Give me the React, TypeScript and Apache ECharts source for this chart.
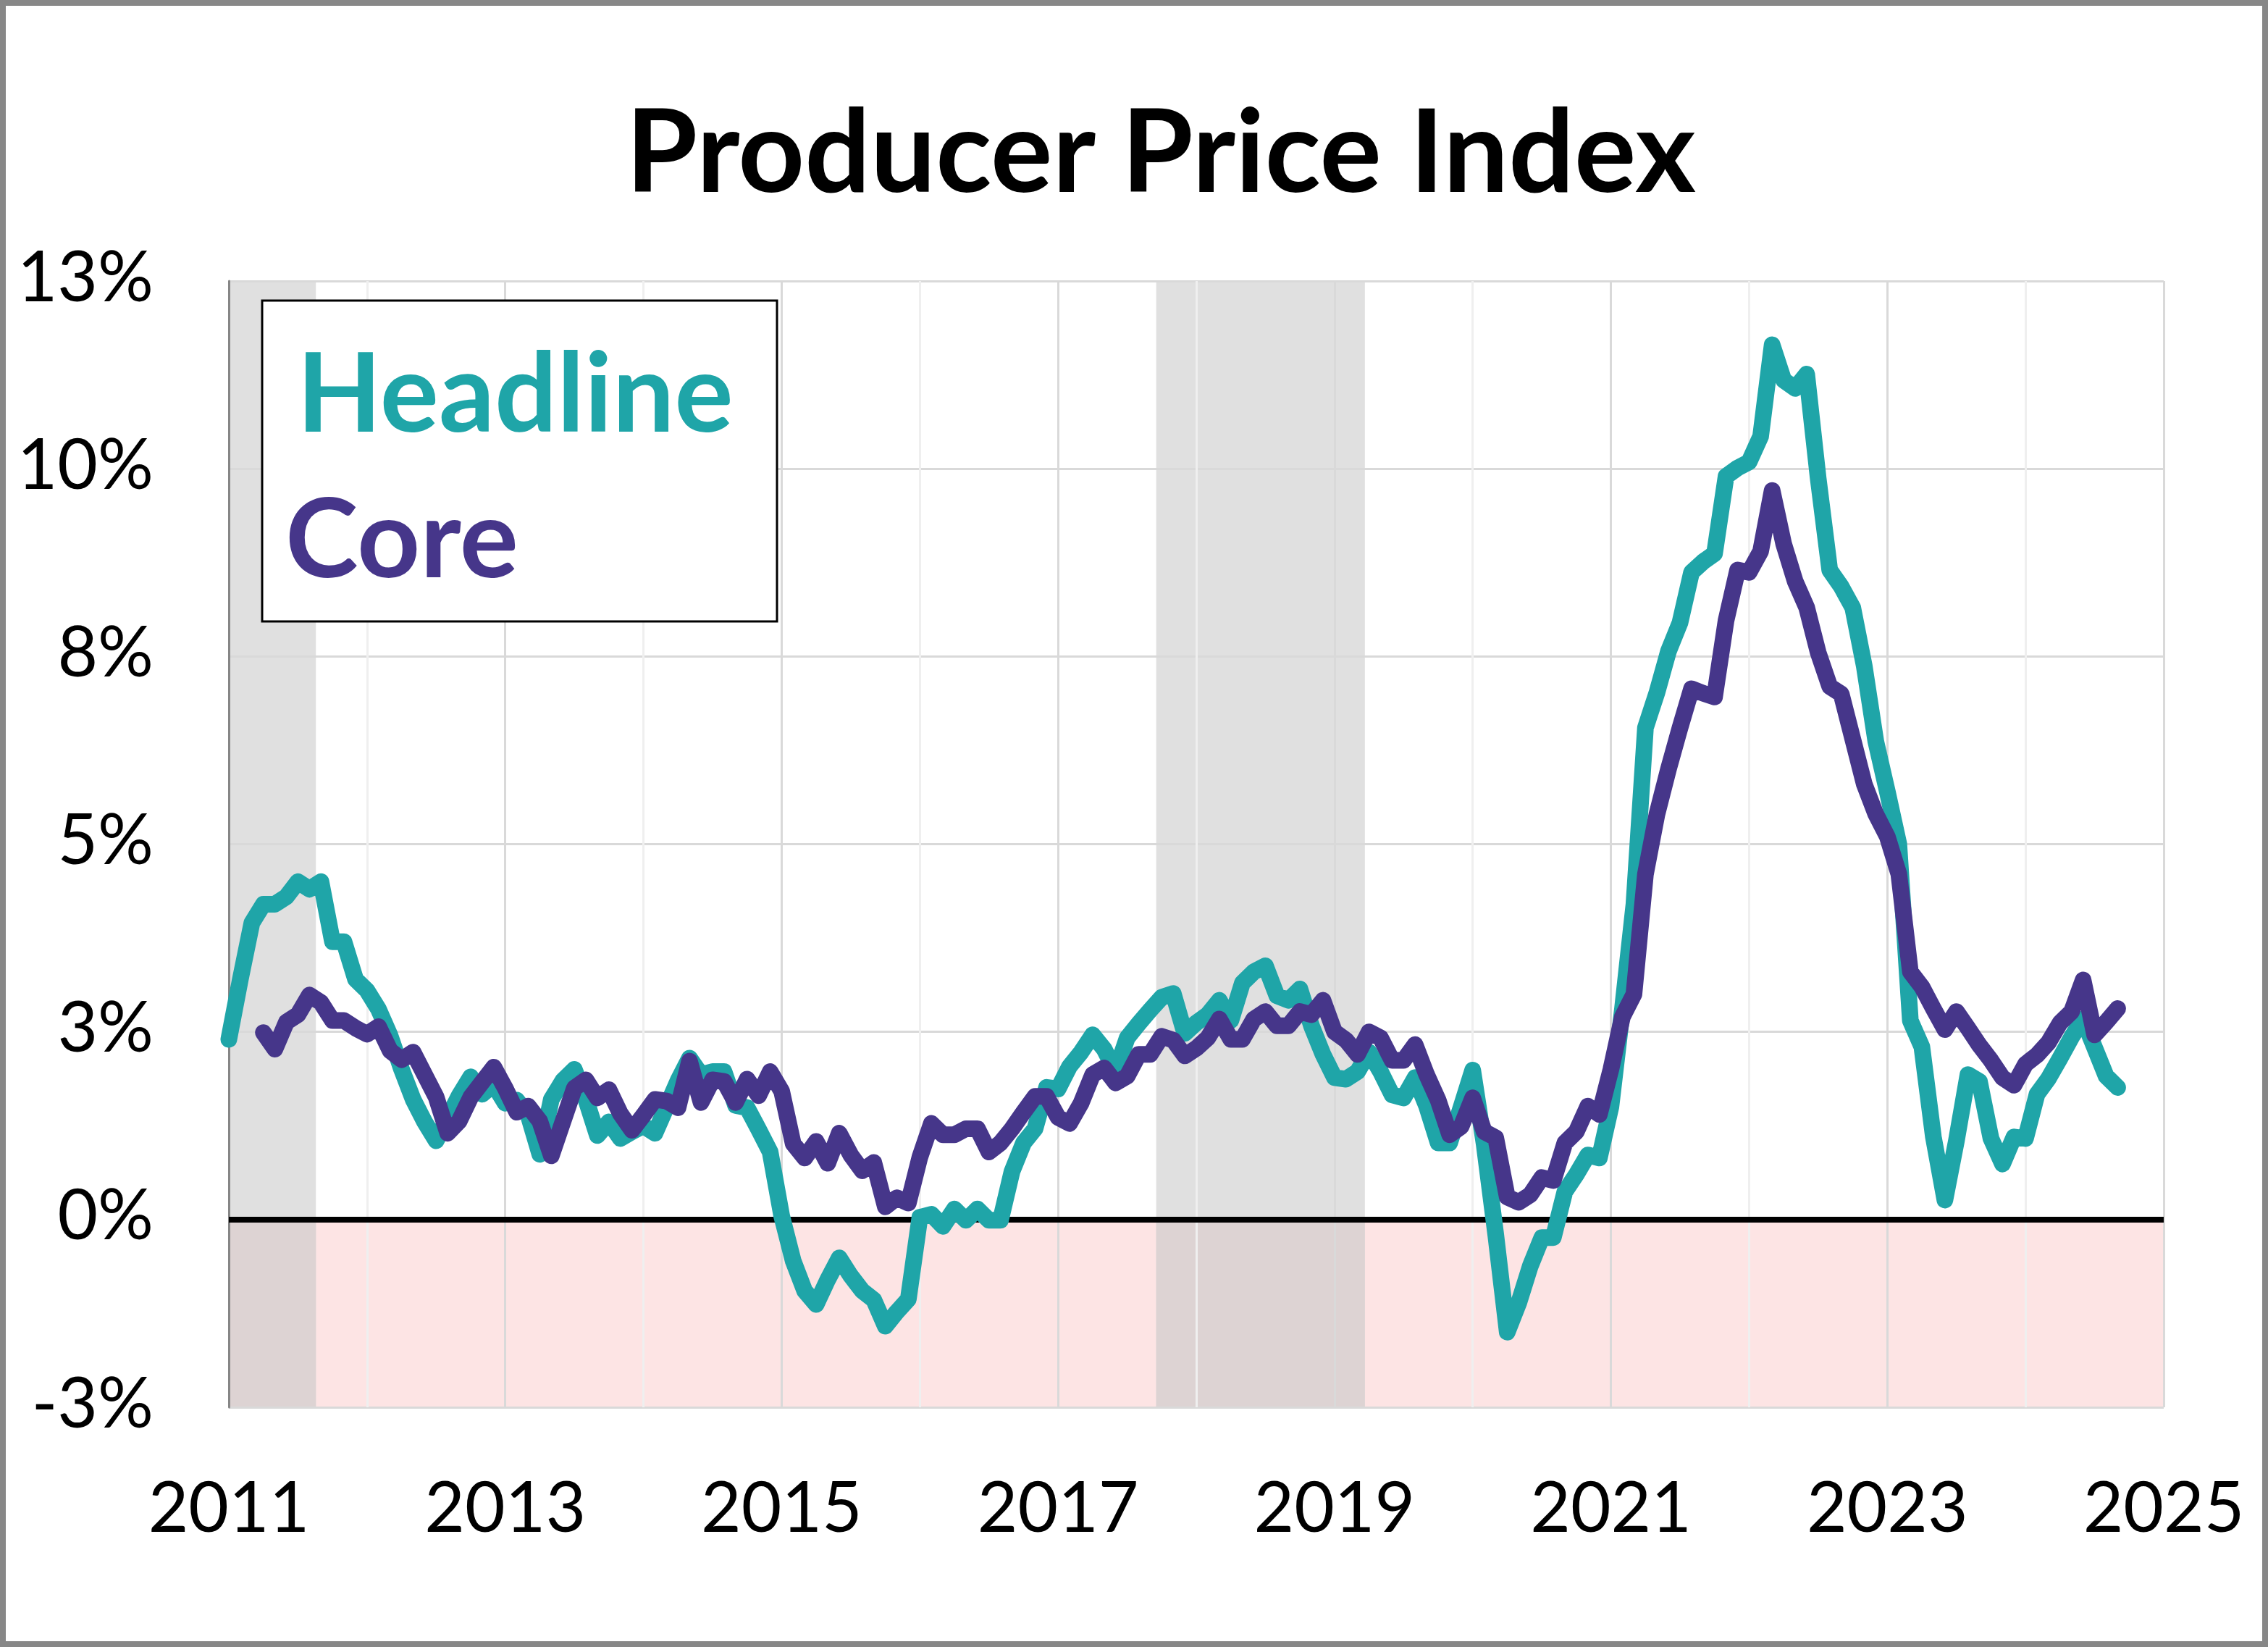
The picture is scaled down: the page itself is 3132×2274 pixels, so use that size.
import React, { useEffect, useRef } from "react";
import * as echarts from "echarts";

// ---------- data ----------
const START_YEAR = 2011; // first month = Jan 2011, monthly data
const HEADLINE = [
  2.4, 3.2, 3.95, 4.2, 4.2, 4.3, 4.5, 4.4, 4.5, 3.7, 3.7, 3.2,
  3.05, 2.8, 2.45, 2.0, 1.6, 1.3, 1.05, 1.35, 1.65, 1.9, 1.67, 1.8,
  1.55, 1.59, 1.39, 0.87, 1.6, 1.85, 2.0, 1.6, 1.12, 1.3, 1.08, 1.17,
  1.25, 1.15, 1.5, 1.85, 2.15, 1.93, 1.97, 1.97, 1.52, 1.49, 1.2, 0.9,
  0.05, -0.55, -0.95, -1.13, -0.8, -0.51, -0.75, -0.95, -1.07, -1.42, -1.23, -1.06,
  0.03, 0.07, -0.09, 0.14, -0.01, 0.14, -0.01, -0.01, 0.64, 1.02, 1.21, 1.76,
  1.74, 2.04, 2.23, 2.46, 2.27, 1.97, 2.42, 2.61, 2.79, 2.96, 3.01, 2.48,
  2.62, 2.73, 2.92, 2.65, 3.15, 3.3, 3.38, 2.98, 2.92, 3.07, 2.58, 2.2,
  1.89, 1.87, 1.97, 2.23, 1.97, 1.66, 1.62, 1.89, 1.51, 1.02, 1.02, 1.5,
  1.99, 1.0, -0.2, -1.5, -1.11, -0.62, -0.24, -0.24, 0.37, 0.6, 0.86, 0.82,
  1.5, 2.8, 4.2, 6.55, 7.02, 7.57, 7.95, 8.62, 8.76, 8.87, 9.9, 10.01,
  10.09, 10.43, 11.65, 11.18, 11.07, 11.26, 9.87, 8.65, 8.43, 8.15, 7.37, 6.37,
  5.7, 5.0, 2.65, 2.3, 1.1, 0.26, 1.05, 1.93, 1.84, 1.08, 0.74, 1.1,
  1.08, 1.67, 1.88, 2.15, 2.43, 2.67, 2.29, 1.91, 1.76,
];
const CORE_START_MONTH = 3; // core begins Apr 2011
const CORE = [
  2.49, 2.27, 2.63, 2.73, 2.99, 2.89, 2.65, 2.65, 2.55,
  2.47, 2.57, 2.25, 2.13, 2.23, 1.93, 1.63, 1.15, 1.31, 1.63, 1.83, 2.03,
  1.75, 1.43, 1.51, 1.31, 0.85, 1.3, 1.75, 1.86, 1.62, 1.73, 1.41, 1.19,
  1.39, 1.6, 1.58, 1.49, 2.11, 1.56, 1.86, 1.84, 1.56, 1.87, 1.65, 1.97,
  1.71, 1.01, 0.82, 1.04, 0.75, 1.15, 0.86, 0.65, 0.76, 0.17, 0.29, 0.22,
  0.83, 1.28, 1.13, 1.13, 1.21, 1.21, 0.9, 1.02, 1.21, 1.43, 1.64, 1.64,
  1.36, 1.28, 1.55, 1.93, 2.02, 1.82, 1.91, 2.2, 2.2, 2.44, 2.39, 2.18,
  2.28, 2.42, 2.67, 2.4, 2.4, 2.67, 2.77, 2.58, 2.58, 2.77, 2.73, 2.92,
  2.5, 2.39, 2.2, 2.5, 2.42, 2.12, 2.12, 2.33, 1.93, 1.59, 1.13, 1.24,
  1.62, 1.17, 1.09, 0.3, 0.23, 0.33, 0.56, 0.52, 1.02, 1.17, 1.51, 1.4,
  2.0, 2.7, 3.0, 4.6, 5.4, 6.0, 6.55, 7.07, 7.01, 6.96, 7.98, 8.65,
  8.62, 8.9, 9.71, 9.0, 8.5, 8.15, 7.55, 7.1, 7.0, 6.4, 5.8, 5.4,
  5.1, 4.6, 3.3, 3.1, 2.81, 2.53, 2.77, 2.55, 2.32, 2.12, 1.89, 1.79,
  2.07, 2.19, 2.36, 2.62, 2.77, 3.19, 2.46, 2.63, 2.81,
];
const Y_TICK_LABELS = ["-3%", "0%", "3%", "5%", "8%", "10%", "13%"];
const X_TICK_LABELS = ["2011", "", "2013", "", "2015", "", "2017", "", "2019", "", "2021", "", "2023", "", "2025"];
const SHADED_PERIODS = [
  [2011.0, 2011.63],
  [2017.71, 2019.22],
];
const TITLE = "Producer Price Index";
const SERIES_NAMES = ["Headline", "Core"];

// ---------- styles ----------
const W = 3132;
const H = 2274;
const TEAL = "#1FA5A8";
const PURPLE = "#46368A";
const Y_MIN = -2.5;
const Y_MAX = 12.5;
const Y_STEP = 2.5;
const X_MIN = 2011;
const X_MAX = 2025;
const FONT = "Lato, 'Open Sans', sans-serif";
const LINE_W = 23;

const toPoints = (vals: number[], offset: number) =>
  vals.map((v, i) => [START_YEAR + (i + offset) / 12, v]);

export default function App() {
  const ref = useRef<HTMLDivElement>(null);

  useEffect(() => {
    if (!ref.current) return;
    const chart = echarts.init(ref.current, undefined, { renderer: "svg" });

    const option: any = {
      animation: false,
      backgroundColor: "#ffffff",
      title: {
        text: TITLE,
        left: 1598,
        top: 118,
        textAlign: "center",
        textStyle: {
          fontFamily: FONT,
          fontWeight: "bold",
          fontSize: 160,
          lineHeight: 160,
          color: "#000000",
        },
      },
      grid: { left: 316, right: W - 2988, top: 388, bottom: H - 1943, containLabel: false },
      xAxis: {
        type: "value",
        min: X_MIN,
        max: X_MAX,
        interval: 1,
        z: 3,
        axisLine: { show: false },
        axisTick: { show: false },
        axisLabel: {
          formatter: (v: number) => X_TICK_LABELS[Math.round(v - X_MIN)] ?? "",
          fontFamily: FONT,
          fontSize: 96,
          lineHeight: 96,
          color: "#000000",
          margin: 86,
          showMinLabel: true,
          showMaxLabel: true,
          hideOverlap: false,
        },
        splitLine: { show: true, lineStyle: { color: ["#d9d9d9", "#efefef"], width: 3 } },
      },
      yAxis: {
        type: "value",
        min: Y_MIN,
        max: Y_MAX,
        interval: Y_STEP,
        z: 3,
        axisLine: { show: true, onZero: false, lineStyle: { color: "#868686", width: 3 } },
        axisTick: { show: false },
        axisLabel: {
          formatter: (v: number) => Y_TICK_LABELS[Math.round((v - Y_MIN) / Y_STEP)] ?? "",
          fontFamily: FONT,
          fontSize: 96,
          lineHeight: 20,
          verticalAlign: "bottom",
          color: "#000000",
          margin: 104,
          showMinLabel: true,
          showMaxLabel: true,
        },
        splitLine: { show: true, lineStyle: { color: "#d9d9d9", width: 3 } },
      },
      graphic: [
        {
          type: "rect",
          z: 100,
          shape: { x: 4, y: 4, width: W - 8, height: H - 8 },
          style: { fill: "none", stroke: "#878787", lineWidth: 8 },
          silent: true,
        },
        {
          type: "rect",
          z: 100,
          shape: { x: 362, y: 415, width: 711, height: 443 },
          style: { fill: "#ffffff", stroke: "#000000", lineWidth: 3 },
          silent: true,
        },
        {
          type: "text",
          z: 101,
          x: 410,
          y: 537,
          style: {
            text: SERIES_NAMES[0],
            fill: TEAL,
            fontFamily: FONT,
            fontWeight: "bold",
            fontSize: 152,
            align: "left",
            verticalAlign: "middle",
          },
        },
        {
          type: "text",
          z: 101,
          x: 394,
          y: 738,
          style: {
            text: SERIES_NAMES[1],
            fill: PURPLE,
            fontFamily: FONT,
            fontWeight: "bold",
            fontSize: 152,
            align: "left",
            verticalAlign: "middle",
          },
        },
      ],
      series: [
        {
          type: "line",
          data: [],
          z: 1,
          silent: true,
          markArea: {
            silent: true,
            itemStyle: { color: "#fde4e4" },
            data: [[{ xAxis: X_MIN, yAxis: Y_MIN }, { xAxis: X_MAX, yAxis: 0 }]],
          },
        },
        {
          type: "line",
          data: [],
          z: 1,
          silent: true,
          markArea: {
            silent: true,
            itemStyle: { color: "#e0e0e0" },
            data: SHADED_PERIODS.map(([a, b]) => [
              { xAxis: a, yAxis: Y_MIN },
              { xAxis: b, yAxis: Y_MAX },
            ]),
          },
        },
        {
          type: "line",
          data: [],
          z: 1,
          silent: true,
          markArea: {
            silent: true,
            itemStyle: { color: "#ddd3d3" },
            data: SHADED_PERIODS.map(([a, b]) => [
              { xAxis: a, yAxis: Y_MIN },
              { xAxis: b, yAxis: 0 },
            ]),
          },
        },
        {
          type: "line",
          data: [],
          z: 4,
          silent: true,
          markLine: {
            silent: true,
            symbol: ["none", "none"],
            label: { show: false },
            lineStyle: { color: "#000000", width: 8, type: "solid" },
            data: [{ yAxis: 0 }],
          },
        },
        {
          name: SERIES_NAMES[0],
          type: "line",
          z: 5,
          data: toPoints(HEADLINE, 0),
          showSymbol: false,
          symbol: "none",
          lineStyle: { color: TEAL, width: LINE_W, cap: "round", join: "round" },
        },
        {
          name: SERIES_NAMES[1],
          type: "line",
          z: 6,
          data: toPoints(CORE, CORE_START_MONTH),
          showSymbol: false,
          symbol: "none",
          lineStyle: { color: PURPLE, width: LINE_W, cap: "round", join: "round" },
        },
      ],
    };

    chart.setOption(option);
    return () => chart.dispose();
  }, []);

  return (
    <div
      ref={ref}
      style={{ position: "fixed", left: 0, top: 0, width: W, height: H, background: "#fff" }}
    />
  );
}
